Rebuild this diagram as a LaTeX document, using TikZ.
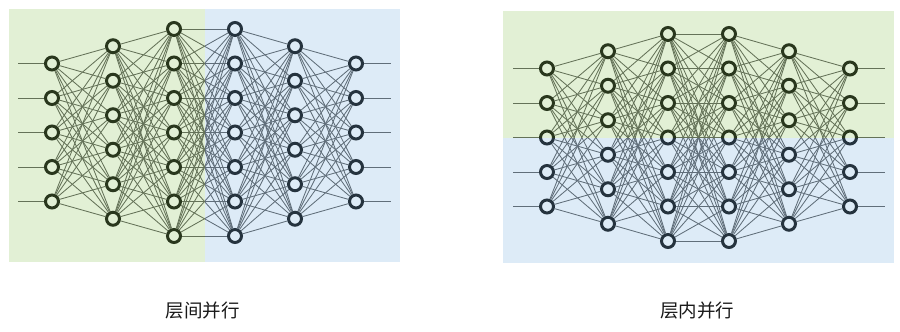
\documentclass[tikz,border=0pt]{standalone}
\usepackage{fontspec}
\newfontfamily\cjk{Noto Sans CJK SC}
\definecolor{ovgreen}{RGB}{150,200,105}
\definecolor{ovblue}{RGB}{134,184,226}
\begin{document}
\begin{tikzpicture}[x=1pt,y=-1pt,
  nn/.style={circle,draw=black,fill=white,line width=3pt,minimum size=13pt,inner sep=0pt},
  edge/.style={draw=black!68,line width=0.85pt},
  ovg/.style={fill=ovgreen,fill opacity=0.28,draw=none},
  ovb/.style={fill=ovblue,fill opacity=0.28,draw=none},
  lbl/.style={font=\cjk\fontsize{18.5}{20}\selectfont,text=black!90}]
\useasboundingbox (0,0) rectangle (900,332);
% ---------- left network ----------
\foreach \xx/\n [count=\l] in {52/5,113/6,174/7,235/7,295/6,356/5} {
  \foreach \i in {1,...,\n} {
    \node[nn] (a\l-\i) at (\xx,{132.5+(\i-(\n+1)/2)*34.5}) {};
  }
}
\foreach \l/\m/\n/\k in {1/2/5/6,2/3/6/7,3/4/7/7,4/5/7/6,5/6/6/5} {
  \foreach \i in {1,...,\n} {
    \foreach \j in {1,...,\k} {
      \draw[edge] (a\l-\i) -- (a\m-\j);
    }
  }
}
\foreach \i in {1,...,5} {
  \coordinate (ain\i) at (18,{132.5+(\i-3)*34.5});
  \coordinate (aout\i) at (391,{132.5+(\i-3)*34.5});
  \draw[edge] (ain\i) -- (a1-\i);
  \draw[edge] (a6-\i) -- (aout\i);
}
% ---------- right network ----------
\foreach \xx/\n [count=\l] in {547/5,608/6,668/7,729/7,789/6,850/5} {
  \foreach \i in {1,...,\n} {
    \node[nn] (b\l-\i) at (\xx,{137.5+(\i-(\n+1)/2)*34.5}) {};
  }
}
\foreach \l/\m/\n/\k in {1/2/5/6,2/3/6/7,3/4/7/7,4/5/7/6,5/6/6/5} {
  \foreach \i in {1,...,\n} {
    \foreach \j in {1,...,\k} {
      \draw[edge] (b\l-\i) -- (b\m-\j);
    }
  }
}
\foreach \i in {1,...,5} {
  \coordinate (bin\i) at (513,{137.5+(\i-3)*34.5});
  \coordinate (bout\i) at (885,{137.5+(\i-3)*34.5});
  \draw[edge] (bin\i) -- (b1-\i);
  \draw[edge] (b6-\i) -- (bout\i);
}
% ---------- colour overlays ----------
\path[ovg] (9,9) rectangle (204.5,262);
\path[ovb] (204.5,9) rectangle (400,262);
\path[ovg] (503,11) rectangle (894,137.5);
\path[ovb] (503,137.5) rectangle (894,263);
% ---------- labels ----------
\node[lbl] (t1) at (202.5,311) {层间并行};
\node[lbl] (t2) at (697,311) {层内并行};
\end{tikzpicture}
\end{document}
